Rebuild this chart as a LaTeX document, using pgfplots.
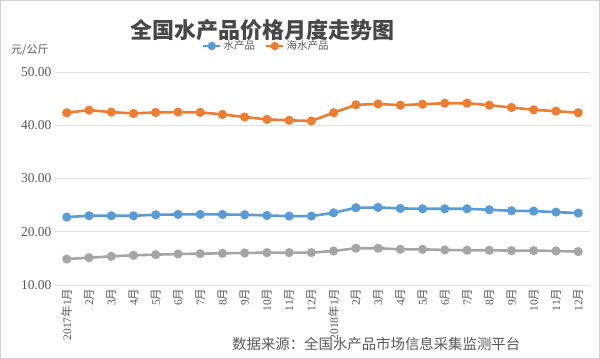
\documentclass[border=0pt]{standalone}
\usepackage{pgfplots}
\pgfplotsset{compat=1.18}
\usepackage{fontspec}
\setmainfont{Liberation Serif}
\newfontfamily\cjk{Noto Sans CJK SC}
\definecolor{cblue}{HTML}{5B9BD5}
\definecolor{corange}{HTML}{ED7D31}
\definecolor{cgray}{HTML}{A5A5A5}
\definecolor{ctext}{HTML}{595959}
\newcommand{\mo}[1]{#1{\cjk 月}}
\newcommand{\yr}[2]{#1{\cjk 年}#2{\cjk 月}}
\begin{document}
\begin{tikzpicture}
\useasboundingbox (0bp,0bp) rectangle (600bp,359bp);
\draw[gray!35, line width=1bp] (0.5bp,0.5bp) rectangle (599.5bp,358.5bp);
\begin{axis}[
  at={(55bp,74bp)}, anchor=south west, scale only axis,
  width=535bp, height=213bp,
  xmin=-0.53, xmax=23.53, ymin=10, ymax=50,
  ytick={10,20,30,40,50},
  yticklabel style={/pgf/number format/fixed, /pgf/number format/fixed zerofill, /pgf/number format/precision=2, font=\fontsize{13.5bp}{15bp}\selectfont, text=ctext},
  /pgf/number format/assume math mode=true,
  xtick={0,...,23},
  xticklabels={{\yr{2017}{1}},{\mo{2}},{\mo{3}},{\mo{4}},{\mo{5}},{\mo{6}},{\mo{7}},{\mo{8}},{\mo{9}},{\mo{10}},{\mo{11}},{\mo{12}},{\yr{2018}{1}},{\mo{2}},{\mo{3}},{\mo{4}},{\mo{5}},{\mo{6}},{\mo{7}},{\mo{8}},{\mo{9}},{\mo{10}},{\mo{11}},{\mo{12}}},
  xticklabel style={rotate=90, anchor=east, font=\fontsize{11.5bp}{13bp}\selectfont, text=ctext},
  major tick length=0pt,
  ymajorgrids, grid style={gray!25, line width=0.8bp},
  axis line style={draw=none},
  legend style={at={(0.395,1.122)}, anchor=center, draw=none, fill=none, legend columns=2, font=\cjk\fontsize{10.5bp}{12bp}\selectfont, text=ctext, /tikz/every even column/.append style={column sep=8bp}},
  legend image code/.code={\draw[#1, line width=2.5bp] (0,0) -- (0.6cm,0); \fill[#1] (0.3cm,0) circle (2.8bp);},
  every axis plot/.append style={line width=2.6bp, mark=*, mark size=3.2bp},
]
\addplot[cblue, mark options={fill=cblue, draw=cblue}] coordinates {
(0,22.75)(1,23.0)(2,23.0)(3,23.0)(4,23.19)(5,23.25)(6,23.25)(7,23.25)(8,23.19)(9,23.06)(10,22.94)(11,22.94)
(12,23.56)(13,24.5)(14,24.56)(15,24.38)(16,24.31)(17,24.31)(18,24.31)(19,24.13)(20,23.94)(21,23.88)(22,23.69)(23,23.5)};
\addlegendentry{水产品}
\addplot[corange, mark options={fill=corange, draw=corange}] coordinates {
(0,42.35)(1,42.84)(2,42.47)(3,42.22)(4,42.41)(5,42.47)(6,42.41)(7,42.04)(8,41.54)(9,41.1)(10,40.93)(11,40.8)
(12,42.35)(13,43.83)(14,44.0)(15,43.77)(16,43.95)(17,44.14)(18,44.14)(19,43.77)(20,43.33)(21,42.9)(22,42.65)(23,42.35)};
\addlegendentry{海水产品}
\addplot[cgray, mark options={fill=cgray, draw=cgray}, forget plot] coordinates {
(0,14.87)(1,15.13)(2,15.38)(3,15.57)(4,15.7)(5,15.82)(6,15.89)(7,15.95)(8,16.01)(9,16.08)(10,16.08)(11,16.08)
(12,16.39)(13,16.9)(14,16.9)(15,16.7)(16,16.7)(17,16.58)(18,16.52)(19,16.52)(20,16.46)(21,16.46)(22,16.39)(23,16.27)};
\end{axis}
\node[font=\cjk\bfseries\fontsize{22bp}{26bp}\selectfont, text=ctext!80!black] at (262bp,329bp) {全国水产品价格月度走势图};
\node[font=\cjk\fontsize{11bp}{13bp}\selectfont, text=ctext, anchor=west, inner sep=0pt] at (11bp,309bp) {元/公斤};
\node[font=\cjk\fontsize{14.4bp}{16bp}\selectfont, text=ctext, anchor=west, inner sep=0pt] at (232bp,15bp) {数据来源：全国水产品市场信息采集监测平台};
\end{tikzpicture}
\end{document}
